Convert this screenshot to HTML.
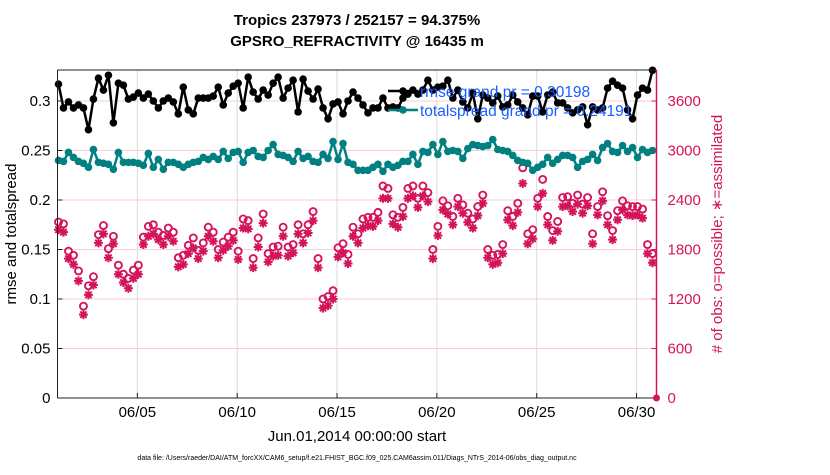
<!DOCTYPE html>
<html><head><meta charset="utf-8"><style>
body{margin:0;background:#fff;width:830px;height:470px;overflow:hidden;font-family:"Liberation Sans",Arial,sans-serif}
</style></head><body>
<svg id="chart" width="830" height="470" xmlns="http://www.w3.org/2000/svg" font-family="Liberation Sans, Arial, sans-serif">
<text x="357" y="25" text-anchor="middle" font-size="15" font-weight="bold">Tropics 237973 / 252157 = 94.375%</text>
<text x="357" y="46" text-anchor="middle" font-size="15" font-weight="bold">GPSRO_REFRACTIVITY @ 16435 m</text>
<g id="grid"></g><g id="marks"></g><g id="axes"></g>
<text transform="translate(16,234) rotate(-90)" text-anchor="middle" font-size="15">rmse and totalspread</text>
<text transform="translate(722,234) rotate(-90)" text-anchor="middle" font-size="15" fill="#d4145a"># of obs: o=possible; ∗=assimilated</text>
<text x="357" y="441" text-anchor="middle" font-size="15">Jun.01,2014 00:00:00 start</text>
<text x="357" y="460" text-anchor="middle" font-size="7">data file: /Users/raeder/DAI/ATM_forcXX/CAM6_setup/f.e21.FHIST_BGC.f09_025.CAM6assim.011/Diags_NTrS_2014-06/obs_diag_output.nc</text>
<g id="legend-g"></g>
</svg>
<script>
const xTickLabels=["06/05","06/10","06/15","06/20","06/25","06/30"];
const xTickDays=[4,9,14,19,24,29];
const yTicks=[0,0.05,0.1,0.15,0.2,0.25,0.3];
const yTickLabels=["0","0.05","0.1","0.15","0.2","0.25","0.3"];
const y2Ticks=[0,600,1200,1800,2400,3000,3600];
const rmse=[0.317,0.293,0.299,0.293,0.296,0.293,0.271,0.302,0.323,0.311,0.326,0.278,0.318,0.316,0.302,0.304,0.308,0.303,0.307,0.300,0.293,0.300,0.303,0.299,0.287,0.314,0.291,0.287,0.303,0.303,0.303,0.305,0.314,0.296,0.308,0.315,0.318,0.293,0.324,0.309,
0.302,0.311,0.306,0.318,0.324,0.303,0.313,0.321,0.289,0.322,0.310,0.302,0.312,0.293,0.282,0.297,0.299,0.287,0.300,0.309,0.303,0.296,0.288,0.293,0.293,0.303,0.293,0.294,0.293,0.303,0.307,0.311,0.307,0.311,0.321,0.311,0.314,0.315,0.321,0.303,
0.311,0.299,0.293,0.308,0.282,0.306,0.303,0.298,0.305,0.294,0.296,0.306,0.299,0.293,0.286,0.305,0.305,0.289,0.306,0.309,0.298,0.298,0.293,0.288,0.291,0.294,0.276,0.294,0.291,0.293,0.313,0.320,0.316,0.313,0.291,0.282,0.306,0.313,0.311,0.331];
const spread=[0.240,0.239,0.248,0.243,0.239,0.237,0.233,0.251,0.238,0.237,0.236,0.231,0.248,0.238,0.238,0.238,0.237,0.235,0.247,0.233,0.241,0.231,0.238,0.238,0.236,0.233,0.236,0.238,0.239,0.243,0.241,0.244,0.241,0.249,0.242,0.248,0.249,0.238,0.248,0.250,
0.244,0.243,0.250,0.256,0.246,0.245,0.243,0.239,0.249,0.242,0.244,0.239,0.238,0.246,0.242,0.259,0.241,0.257,0.238,0.236,0.230,0.230,0.230,0.233,0.236,0.229,0.236,0.233,0.235,0.239,0.239,0.246,0.236,0.249,0.248,0.256,0.246,0.259,0.249,0.250,
0.249,0.242,0.252,0.256,0.255,0.254,0.255,0.261,0.251,0.250,0.249,0.245,0.240,0.238,0.237,0.230,0.233,0.236,0.243,0.237,0.241,0.245,0.245,0.243,0.233,0.239,0.241,0.246,0.240,0.253,0.257,0.249,0.248,0.255,0.249,0.253,0.243,0.251,0.248,0.250];
const possible=[2133,2110,1780,1730,1540,1113,1360,1470,1980,2090,1810,1960,1610,1500,1450,1550,1610,1950,2080,2100,2010,1970,2060,2010,1700,1730,1850,1940,1790,1880,2070,2010,1800,1890,1950,2010,1780,2170,2150,1690,
1940,2230,1750,1830,1840,2070,1830,1860,2100,1990,2100,2260,1690,1200,1230,1300,1820,1870,1740,2070,1990,2170,2190,2190,2250,2570,2540,2220,2190,2310,2540,2570,2420,2570,2490,1800,2080,2390,2330,2200,
2420,2340,2240,2170,2320,2460,1800,1730,1740,1860,2270,2200,2360,2790,1990,2040,2420,2650,2200,2030,2140,2430,2440,2360,2460,2350,2430,1990,2320,2500,2210,2030,2270,2390,2330,2320,2320,2290,1860,1750];
const assimilated=[2040,2010,1690,1620,1420,1010,1250,1370,1880,1990,1700,1870,1500,1400,1330,1450,1500,1860,1960,1990,1920,1860,1960,1900,1590,1620,1750,1820,1690,1780,1960,1900,1700,1790,1840,1910,1680,2060,2050,1580,
1830,2120,1650,1720,1730,1960,1720,1760,1990,1880,2000,2150,1580,1090,1120,1200,1710,1760,1630,1960,1880,2060,2090,2080,2150,2420,2420,2110,2070,2200,2420,2450,2310,2450,2380,1690,1970,2280,2230,2100,
2320,2240,2130,2060,2210,2360,1700,1620,1640,1750,2160,2090,2250,2600,1870,1930,2320,2480,2100,1910,2020,2320,2330,2260,2350,2240,2330,1870,2220,2390,2100,1920,2160,2280,2220,2210,2220,2180,1750,1640];
const NS='http://www.w3.org/2000/svg';
const X0=57.5,X1=656.5,Y0=398,YT=70,YMAX=0.3313,Y2MAX=3976;
function xs(d){return X0+(d/30)*(X1-X0);}
function ys(v){return Y0-(v/YMAX)*(Y0-YT);}
function ys2(v){return Y0-(v/Y2MAX)*(Y0-YT);}
function mk(tag,attrs,parent){const e=document.createElementNS(NS,tag);for(const k in attrs)e.setAttribute(k,attrs[k]);parent.appendChild(e);return e;}
const grid=document.getElementById('grid'),marks=document.getElementById('marks'),axes=document.getElementById('axes');
xTickDays.forEach((d,i)=>{
  const g=mk('line',{x1:xs(d),x2:xs(d),y1:YT,y2:Y0,stroke:'#dcdcdc','stroke-width':1},grid);
  
  
  const t=mk('line',{x1:xs(d),x2:xs(d),y1:Y0,y2:Y0-5,stroke:'#222','stroke-width':1},axes);
  
  
  const l=mk('text',{x:xs(d),y:Y0+19,'text-anchor':'middle','font-size':15},axes);
  l.textContent=xTickLabels[i];
  
  
});
yTicks.forEach((v,i)=>{
  if(v>0){const g=mk('line',{x1:X0,x2:X1,y1:ys(v),y2:ys(v),stroke:'#f5cfdc','stroke-width':1},grid);
  
  }
  const t=mk('line',{x1:X0,x2:X0+5,y1:ys(v),y2:ys(v),stroke:'#222'},axes);
  
  
  const l=mk('text',{x:X0-7,y:ys(v)+5,'text-anchor':'end','font-size':15},axes);
  l.textContent=yTickLabels[i];
  
  
});
y2Ticks.forEach(v=>{
  const t=mk('line',{x1:X1-5,x2:X1,y1:ys2(v),y2:ys2(v),stroke:'#d4145a'},axes);
  
  
  const l=mk('text',{x:X1+11,y:ys2(v)+5,'font-size':15,fill:'#d4145a'},axes);
  l.textContent=String(v);
  
  
});
let a=mk('line',{x1:X0,x2:X1,y1:YT,y2:YT,stroke:'#222'},axes);
a=mk('line',{x1:X0,x2:X1,y1:Y0,y2:Y0,stroke:'#222'},axes);
a=mk('line',{x1:X0,x2:X0,y1:YT,y2:Y0,stroke:'#222'},axes);
a=mk('line',{x1:X1,x2:X1,y1:YT,y2:Y0,stroke:'#d4145a','stroke-width':1.5},axes);
a=mk('circle',{cx:X1,cy:Y0,r:3.5,fill:'#d4145a'},axes);
const day=i=>0.05+i*0.25;
possible.forEach((v,i)=>{
  const c=mk('circle',{cx:xs(day(i)),cy:ys2(v),r:3.5,fill:'none',stroke:'#d4145a','stroke-width':1.9},marks);
  
  
});
assimilated.forEach((v,i)=>{
  const cx=xs(day(i)),cy=ys2(v),r=4.5;
  const d=`M${cx-r},${cy}H${cx+r}M${cx},${cy-r}V${cy+r}M${cx-3.2},${cy-3.2}L${cx+3.2},${cy+3.2}M${cx-3.2},${cy+3.2}L${cx+3.2},${cy-3.2}`;
  const p=mk('path',{d:d,stroke:'#d4145a','stroke-width':2,fill:'none'},marks);
  
  
});
function series(arr,color,name){
  const p=mk('polyline',{points:arr.map((v,i)=>xs(day(i))+','+ys(v)).join(' '),fill:'none',stroke:color,'stroke-width':2.5},marks);
  
  
  arr.forEach((v,i)=>{
    const c=mk('circle',{cx:xs(day(i)),cy:ys(v),r:3.8,fill:color},marks);
    
    
  });
}
series(spread,'#008080','spread');
series(rmse,'#000000','rmse');
</script>
<script>
(function(){
const NS='http://www.w3.org/2000/svg';
const g=document.getElementById('legend-g');


g.innerHTML='<line x1="388" y1="91" x2="418" y2="91" stroke="#000" stroke-width="2.5"/><circle cx="403" cy="91" r="3.8" fill="#000"/>'+
'<text x="420" y="97" font-size="15.5" fill="#1a5cff">rmse grand pr = 0.30198</text>'+
'<line x1="388" y1="110" x2="418" y2="110" stroke="#008080" stroke-width="2.5"/><circle cx="403" cy="110" r="3.8" fill="#008080"/>'+
'<text x="420" y="116" font-size="15.5" fill="#1a5cff">totalspread grand pr = 0.24191</text>';
})();
</script>
</body></html>
